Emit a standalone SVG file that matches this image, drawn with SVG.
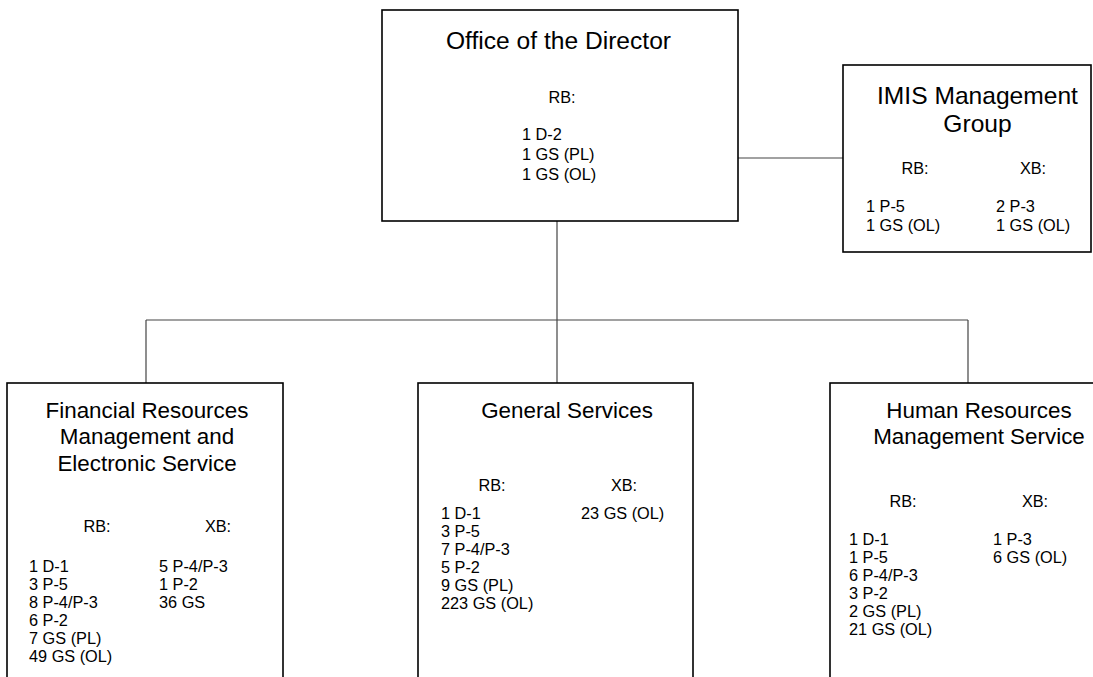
<svg xmlns="http://www.w3.org/2000/svg" width="1093" height="677" viewBox="0 0 1093 677">
<style>
.box{fill:#fff;stroke:#000;stroke-width:1.6}
.con{fill:none;stroke:#444;stroke-width:1.2}
text{font-family:"Liberation Sans",Arial,sans-serif;fill:#000}
.t1{font-size:24.6px;text-anchor:middle}
.t2{font-size:22.4px;text-anchor:middle}
.b{font-size:16.3px}
.c{text-anchor:middle}
</style>
<rect width="1093" height="677" fill="#fff"/>
<g id="connectors">
<line class="con" x1="738" y1="158" x2="843" y2="158"/>
<line class="con" x1="557" y1="221" x2="557" y2="320"/>
<line class="con" x1="146" y1="320" x2="968" y2="320"/>
<line class="con" x1="146" y1="320" x2="146" y2="383"/>
<line class="con" x1="557" y1="320" x2="557" y2="383"/>
<line class="con" x1="968" y1="320" x2="968" y2="383"/>
</g>
<g id="office">
<rect class="box" x="382" y="10" width="356" height="211"/>
<text class="t1" x="558.5" y="48.5">Office of the Director</text>
<text class="b c" x="562" y="103">RB:</text>
<text class="b" x="522"><tspan x="522" y="140">1 D-2</tspan><tspan x="522" y="160">1 GS (PL)</tspan><tspan x="522" y="180">1 GS (OL)</tspan></text>
</g>
<g id="imis">
<rect class="box" x="843" y="65" width="248" height="187"/>
<text class="t1"><tspan x="977.5" y="104">IMIS Management</tspan><tspan x="977.5" y="132">Group</tspan></text>
<text class="b c" x="915" y="174">RB:</text>
<text class="b c" x="1033" y="174">XB:</text>
<text class="b"><tspan x="866" y="212">1 P-5</tspan><tspan x="866" y="231">1 GS (OL)</tspan></text>
<text class="b"><tspan x="996" y="212">2 P-3</tspan><tspan x="996" y="231">1 GS (OL)</tspan></text>
</g>
<g id="financial">
<rect class="box" x="7" y="383" width="276" height="310"/>
<text class="t2"><tspan x="147" y="418">Financial Resources</tspan><tspan x="147" y="444">Management and</tspan><tspan x="147" y="471">Electronic Service</tspan></text>
<text class="b c" x="97" y="532">RB:</text>
<text class="b c" x="218" y="532">XB:</text>
<text class="b"><tspan x="29" y="572">1 D-1</tspan><tspan x="29" y="590">3 P-5</tspan><tspan x="29" y="608">8 P-4/P-3</tspan><tspan x="29" y="626">6 P-2</tspan><tspan x="29" y="644">7 GS (PL)</tspan><tspan x="29" y="662">49 GS (OL)</tspan></text>
<text class="b"><tspan x="159" y="572">5 P-4/P-3</tspan><tspan x="159" y="590">1 P-2</tspan><tspan x="159" y="608">36 GS</tspan></text>
</g>
<g id="general">
<rect class="box" x="418" y="383" width="275" height="310"/>
<text class="t2" x="567" y="418">General Services</text>
<text class="b c" x="492" y="491">RB:</text>
<text class="b c" x="624" y="491">XB:</text>
<text class="b"><tspan x="441" y="519">1 D-1</tspan><tspan x="441" y="537">3 P-5</tspan><tspan x="441" y="555">7 P-4/P-3</tspan><tspan x="441" y="573">5 P-2</tspan><tspan x="441" y="591">9 GS (PL)</tspan><tspan x="441" y="609">223 GS (OL)</tspan></text>
<text class="b" x="581" y="519">23 GS (OL)</text>
</g>
<g id="human">
<rect class="box" x="830" y="383" width="280" height="310"/>
<text class="t2"><tspan x="979" y="418">Human Resources</tspan><tspan x="979" y="444">Management Service</tspan></text>
<text class="b c" x="903" y="507">RB:</text>
<text class="b c" x="1035" y="507">XB:</text>
<text class="b"><tspan x="849" y="545">1 D-1</tspan><tspan x="849" y="563">1 P-5</tspan><tspan x="849" y="581">6 P-4/P-3</tspan><tspan x="849" y="599">3 P-2</tspan><tspan x="849" y="617">2 GS (PL)</tspan><tspan x="849" y="635">21 GS (OL)</tspan></text>
<text class="b"><tspan x="993" y="545">1 P-3</tspan><tspan x="993" y="563">6 GS (OL)</tspan></text>
</g>
</svg>
